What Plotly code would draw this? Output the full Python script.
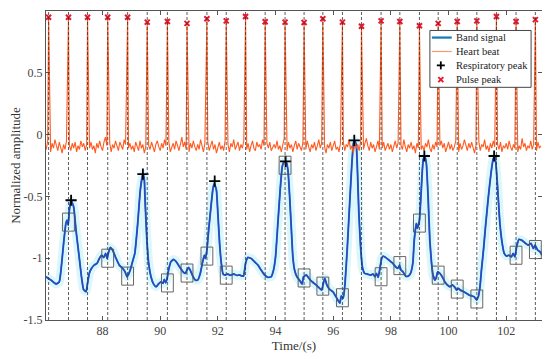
import plotly.graph_objects as go

# ---------------- data ----------------
pulse_t = [86.13, 86.82, 87.48, 88.18, 88.87, 89.55, 90.25, 90.93, 91.62, 92.29,
           92.96, 93.64, 94.33, 94.99, 95.64, 96.32, 96.98, 97.66, 98.31, 98.99,
           99.64, 100.30, 100.98, 101.66, 102.34, 103.01]
pulse_v = [0.95, 0.95, 0.95, 0.95, 0.95, 0.91, 0.915, 0.90, 0.937, 0.92,
           0.956, 0.913, 0.91, 0.907, 0.937, 0.91, 0.877, 0.92, 0.915, 0.88,
           0.90, 0.915, 0.92, 0.956, 0.915, 0.93]

resp_t = [86.91, 89.40, 91.89, 94.35, 96.73, 99.16, 101.58]
resp_v = [-0.531, -0.32, -0.377, -0.216, -0.046, -0.173, -0.173]

box_t = [86.82, 88.18, 88.87, 90.25, 90.93, 91.62, 92.29, 94.33, 94.99, 95.64,
         96.32, 97.66, 98.31, 98.99, 99.64, 100.30, 100.98, 102.34, 103.01]
box_v = [-0.708, -1.0, -1.145, -1.20, -1.12, -0.983, -1.137, -0.248, -1.16, -1.226,
         -1.32, -1.15, -1.06, -0.716, -1.137, -1.25, -1.33, -0.976, -0.93]

band_t = [86.04, 86.21, 86.39, 86.50, 86.56, 86.65, 86.73, 86.77, 86.81, 86.85,
          86.91, 87.00, 87.08, 87.19, 87.27, 87.34, 87.43, 87.48, 87.54, 87.62,
          87.71, 87.81, 87.89, 87.97, 88.04, 88.11, 88.16, 88.20, 88.27, 88.35,
          88.47, 88.58, 88.70, 88.78, 88.85, 88.89, 88.96, 89.04, 89.12, 89.22,
          89.31, 89.40, 89.45, 89.48, 89.54, 89.60, 89.68, 89.77, 89.86, 89.94,
          90.03, 90.10, 90.14, 90.19, 90.24, 90.29, 90.37, 90.46, 90.56, 90.67,
          90.79, 90.87, 90.93, 90.98, 91.04, 91.14, 91.22, 91.30, 91.39, 91.46,
          91.53, 91.57, 91.62, 91.68, 91.76, 91.83, 91.88, 91.95, 92.00, 92.06,
          92.12, 92.18, 92.26, 92.34, 92.43, 92.55, 92.66, 92.75, 92.81, 92.89,
          92.96, 93.04, 93.16, 93.27, 93.39, 93.50, 93.62, 93.74, 93.85, 93.93,
          94.00, 94.08, 94.16, 94.23, 94.29, 94.37, 94.43, 94.49, 94.55, 94.60,
          94.66, 94.74, 94.83, 94.92, 94.97, 95.07, 95.16, 95.27, 95.41, 95.53,
          95.60, 95.67, 95.71, 95.78, 95.87, 96.00, 96.14, 96.23, 96.28, 96.35,
          96.41, 96.49, 96.57, 96.64, 96.70, 96.74, 96.80, 96.84, 96.89, 96.95,
          97.01, 97.09, 97.18, 97.30, 97.38, 97.45, 97.50, 97.56, 97.61, 97.68,
          97.73, 97.82, 97.93, 98.05, 98.16, 98.24, 98.30, 98.35, 98.42, 98.51,
          98.60, 98.68, 98.76, 98.81, 98.88, 98.92, 98.99, 99.04, 99.09, 99.13,
          99.18, 99.23, 99.29, 99.35, 99.41, 99.46, 99.53, 99.58, 99.62, 99.70,
          99.78, 99.87, 99.96, 100.05, 100.13, 100.22, 100.28, 100.34, 100.41, 100.52,
          100.62, 100.71, 100.80, 100.89, 100.97, 101.03, 101.09, 101.14, 101.21, 101.28,
          101.38, 101.47, 101.55, 101.61, 101.66, 101.72, 101.78, 101.86, 101.93, 102.01,
          102.09, 102.18, 102.24, 102.30, 102.36, 102.44, 102.53, 102.65, 102.76, 102.86,
          102.94, 103.00, 103.09, 103.17, 103.25]
band_v = [-1.150, -1.177, -1.209, -1.191, -1.096, -0.880, -0.719, -0.692, -0.733, -0.611,
          -0.531, -0.585, -0.773, -0.989, -1.150, -1.252, -1.271, -1.204, -1.123, -1.082,
          -1.056, -1.042, -1.002, -0.975, -0.994, -0.961, -1.002, -0.961, -0.913, -0.935,
          -1.002, -1.056, -1.082, -1.110, -1.150, -1.136, -1.096, -1.029, -0.961, -0.719,
          -0.450, -0.313, -0.369, -0.557, -0.854, -1.042, -1.150, -1.209, -1.231, -1.209,
          -1.191, -1.204, -1.171, -1.199, -1.163, -1.096, -1.029, -1.010, -1.029, -1.069,
          -1.110, -1.123, -1.096, -1.074, -1.096, -1.150, -1.177, -1.177, -1.123, -1.042,
          -0.975, -1.002, -0.935, -0.773, -0.585, -0.436, -0.396, -0.450, -0.638, -0.880,
          -1.042, -1.128, -1.136, -1.128, -1.139, -1.128, -1.139, -1.136, -1.142, -1.145,
          -1.042, -0.994, -1.002, -1.029, -1.056, -1.096, -1.136, -1.155, -1.150, -1.096,
          -0.989, -0.719, -0.450, -0.262, -0.221, -0.221, -0.288, -0.504, -0.773, -0.989,
          -1.096, -1.150, -1.177, -1.209, -1.150, -1.136, -1.163, -1.191, -1.217, -1.244,
          -1.258, -1.191, -1.163, -1.217, -1.250, -1.274, -1.331, -1.363, -1.306, -1.323,
          -1.204, -0.908, -0.557, -0.262, -0.073, -0.046, -0.086, -0.288, -0.638, -0.908,
          -1.069, -1.123, -1.128, -1.136, -1.128, -1.150, -1.123, -1.155, -1.096, -1.002,
          -0.983, -0.994, -1.015, -1.037, -1.069, -1.082, -1.056, -1.096, -1.110, -1.145,
          -1.145, -1.123, -1.042, -0.854, -0.719, -0.759, -0.692, -0.504, -0.288, -0.194,
          -0.181, -0.234, -0.504, -0.854, -1.040, -1.136, -1.177, -1.150, -1.110, -1.123,
          -1.150, -1.191, -1.217, -1.231, -1.217, -1.236, -1.258, -1.244, -1.258, -1.271,
          -1.284, -1.298, -1.304, -1.312, -1.338, -1.312, -1.231, -1.096, -0.935, -0.746,
          -0.504, -0.315, -0.194, -0.181, -0.288, -0.504, -0.719, -0.880, -0.961, -0.983,
          -0.975, -0.989, -0.961, -0.989, -0.908, -0.848, -0.854, -0.876, -0.894, -0.880,
          -0.921, -0.894, -0.935, -0.948, -0.975]

# heart-beat baseline, one reading every 0.05 s starting at 86.00 s
heart_start = 86.0
heart_step = 0.05
heart_base = [
    -0.08, -0.12, -0.05, -0.10, -0.14, -0.07, -0.11, -0.04, -0.09, -0.13, -0.06, -0.10, -0.15, -0.08, -0.12, -0.05, -0.03, -0.09, -0.13, -0.07,
    -0.11, -0.06, -0.14, -0.09, -0.12, -0.05, -0.10, -0.07, -0.13, -0.08, -0.03, -0.11, -0.06, -0.12, -0.09, -0.15, -0.07, -0.11, -0.05, -0.10,
    -0.13, -0.06, -0.02, -0.09, -0.12, -0.07, -0.14, -0.08, -0.11, -0.05, -0.10, -0.13, -0.06, -0.09, -0.12, -0.04, -0.08, -0.03, -0.11, -0.07,
    -0.12, -0.09, -0.14, -0.06, -0.10, -0.13, -0.05, -0.11, -0.08, -0.15, -0.10, -0.04, -0.09, -0.12, -0.06, -0.11, -0.14, -0.08, -0.05, -0.10,
    -0.13, -0.07, -0.11, -0.04, -0.09, -0.12, -0.06, -0.14, -0.10, -0.07, -0.12, -0.05, -0.09, -0.13, -0.08, -0.02, -0.10, -0.06, -0.12, -0.09,
    -0.14, -0.07, -0.11, -0.05, -0.10, -0.13, -0.08, -0.12, -0.04, -0.09, -0.14, -0.07, -0.11, -0.06, -0.13, -0.09, -0.05, -0.12, -0.08, -0.15,
    -0.10, -0.06, -0.12, -0.09, -0.13, -0.05, -0.11, -0.08, -0.14, -0.07, -0.10, -0.04, -0.12, -0.09, -0.06, -0.13, -0.08, -0.11, -0.05, -0.10,
    -0.12, -0.07, -0.14, -0.09, -0.05, -0.11, -0.13, -0.06, -0.10, -0.08, -0.12, -0.04, -0.09, -0.14, -0.07, -0.11, -0.06, -0.13, -0.10, -0.08,
    -0.11, -0.05, -0.12, -0.09, -0.14, -0.07, -0.03, -0.10, -0.13, -0.06, -0.11, -0.08, -0.14, -0.09, -0.05, -0.12, -0.07, -0.10, -0.13, -0.06,
    -0.09, -0.12, -0.05, -0.10, -0.14, -0.08, -0.11, -0.06, -0.13, -0.09, -0.04, -0.11, -0.07, -0.12, -0.10, -0.15, -0.08, -0.11, -0.06, -0.13,
    -0.09, -0.05, -0.12, -0.10, -0.14, -0.07, -0.11, -0.06, -0.13, -0.08, -0.10, -0.04, -0.12, -0.09, -0.15, -0.07, -0.11, -0.08, -0.13, -0.06,
    -0.10, -0.12, -0.07, -0.03, -0.09, -0.13, -0.06, -0.11, -0.08, -0.14, -0.10, -0.05, -0.12, -0.08, -0.11, -0.06, -0.13, -0.09, -0.07, -0.12,
    -0.08, -0.14, -0.10, -0.05, -0.11, -0.07, -0.13, -0.09, -0.12, -0.04, -0.10, -0.14, -0.08, -0.11, -0.06, -0.12, -0.09, -0.15, -0.07, -0.11,
    -0.05, -0.12, -0.09, -0.13, -0.07, -0.10, -0.04, -0.11, -0.14, -0.08, -0.12, -0.06, -0.10, -0.13, -0.09, -0.05, -0.11, -0.07, -0.14, -0.10,
    -0.06, -0.12, -0.08, -0.13, -0.10, -0.05, -0.11, -0.14, -0.07, -0.12, -0.09, -0.04, -0.10, -0.13, -0.07, -0.11, -0.06, -0.12, -0.15, -0.09,
    -0.11, -0.06, -0.13, -0.08, -0.10, -0.04, -0.12, -0.09, -0.14, -0.07, -0.11, -0.05, -0.10, -0.13, -0.08, -0.12, -0.06, -0.14, -0.09, -0.11,
    -0.07, -0.12, -0.05, -0.10, -0.13, -0.08, -0.11, -0.06, -0.14, -0.09, -0.12, -0.03, -0.10, -0.07, -0.13, -0.09, -0.11, -0.05, -0.12, -0.08,
    -0.10, -0.13, -0.06, -0.11, -0.09,
]

x_ticks = [88, 90, 92, 94, 96, 98, 100, 102]
y_ticks = [-1.5, -1, -0.5, 0, 0.5, 1]
y_tick_text = ["-1.5", "-1", "-0.5", "0", "0.5", "1"]

legend_names = ["Band signal", "Heart beat", "Respiratory peak", "Pulse peak"]

x_range = [86.04, 103.24]
y_range = [-1.5, 1.0]

# ---------------- build the heart beat series ----------------
pts = []
for i, v in enumerate(heart_base):
    t = heart_start + i * heart_step
    if min(abs(t - p) for p in pulse_t) > 0.03:
        pts.append((t, v))
pts += list(zip(pulse_t, pulse_v))
pts.sort()
heart_t = [p[0] for p in pts]
heart_v = [p[1] for p in pts]

FONT = "Liberation Serif"
BAND_LEG = "#1379b0"
BAND_LINE = "#2f44c2"
HEART = "#ff5a1f"
HEART_LEG = "#f79a72"
PULSE = "#e8182e"

fig = go.Figure()

# light halo of the band signal
fig.add_trace(go.Scatter(x=band_t, y=band_v, mode="lines",
                         line=dict(color="rgba(205,244,251,0.7)", width=9, shape="spline", smoothing=0.4),
                         showlegend=False, hoverinfo="skip"))
# band signal
fig.add_trace(go.Scatter(x=band_t, y=band_v, mode="lines", name="Band signal",
                         line=dict(color="#1272c0", width=1.9, shape="spline", smoothing=0.4)))
fig.add_trace(go.Scatter(x=band_t, y=band_v, mode="lines", showlegend=False,
                         line=dict(color=BAND_LINE, width=1.3, shape="spline", smoothing=0.4),
                         hoverinfo="skip"))
# heart beat
fig.add_trace(go.Scatter(x=heart_t, y=heart_v, mode="lines", name="Heart beat",
                         line=dict(color=HEART, width=1.1)))
# respiratory peaks
fig.add_trace(go.Scatter(x=resp_t, y=resp_v, mode="markers", name="Respiratory peak",
                         marker=dict(symbol="cross-thin", size=8, line=dict(color="black", width=1.8))))
# pulse peaks
fig.add_trace(go.Scatter(x=pulse_t, y=pulse_v, mode="markers", name="Pulse peak",
                         marker=dict(symbol="x-thin", size=5, line=dict(color=PULSE, width=2))))

shapes = []
for t in pulse_t:
    shapes.append(dict(type="line", xref="x", yref="paper", x0=t, x1=t, y0=0, y1=1,
                       line=dict(color="#333333", width=0.8, dash="3px,2px"), layer="above"))
BW, BH = 0.205, 0.073
for t, v in zip(box_t, box_v):
    shapes.append(dict(type="rect", xref="x", yref="y", x0=t - BW, x1=t + BW, y0=v - BH, y1=v + BH,
                       line=dict(color="#555555", width=0.9), fillcolor="rgba(0,0,0,0)", layer="above"))

# ---------------- compact legend (paper coordinates) ----------------
LX0, LX1, LY0, LY1 = 0.774, 0.978, 0.753, 0.937
ROWS = [0.914, 0.869, 0.824, 0.778]
KEY0, KEY1, KEYC, TXT = 0.778, 0.818, 0.796, 0.822
shapes.append(dict(type="rect", xref="paper", yref="paper", x0=LX0, x1=LX1, y0=LY0, y1=LY1,
                   line=dict(color="#444444", width=1), fillcolor="white", layer="above"))
shapes.append(dict(type="line", xref="paper", yref="paper", x0=KEY0, x1=KEY1, y0=ROWS[0], y1=ROWS[0],
                   line=dict(color=BAND_LEG, width=2.2), layer="above"))
shapes.append(dict(type="line", xref="paper", yref="paper", x0=KEY0, x1=KEY1, y0=ROWS[1], y1=ROWS[1],
                   line=dict(color=HEART_LEG, width=1.2), layer="above"))
for (a, b, c, d), col, w, r in [((-4, 0, 4, 0), "black", 1.8, ROWS[2]), ((0, -4, 0, 4), "black", 1.8, ROWS[2]),
                                ((-2.5, -2.5, 2.5, 2.5), PULSE, 2, ROWS[3]), ((-2.5, 2.5, 2.5, -2.5), PULSE, 2, ROWS[3])]:
    shapes.append(dict(type="line", xref="paper", yref="paper", xsizemode="pixel", ysizemode="pixel",
                       xanchor=KEYC, yanchor=r, x0=a, y0=b, x1=c, y1=d,
                       line=dict(color=col, width=w), layer="above"))
annotations = [dict(xref="paper", yref="paper", x=TXT, y=r, text=name, showarrow=False,
                    xanchor="left", yanchor="middle", font=dict(family=FONT, size=10.5, color="#222222"))
               for name, r in zip(legend_names, ROWS)]

axis_common = dict(showline=True, linecolor="#555555", linewidth=1, mirror="ticks",
                   ticks="inside", ticklen=4, tickcolor="#555555", showgrid=False, zeroline=False,
                   tickfont=dict(family=FONT, size=12, color="#444444"))

# the page body adds an 8 px offset, so the figure is 542x351 and starts at (8, 8)
fig.update_layout(
    width=542, height=351,
    margin=dict(l=38, r=8, t=2.5, b=39, autoexpand=False),
    paper_bgcolor="white", plot_bgcolor="white",
    font=dict(family=FONT, color="#333333"),
    shapes=shapes, annotations=annotations,
    xaxis=dict(range=x_range, tickvals=x_ticks, ticktext=[str(v) for v in x_ticks],
               title=dict(text="Time/(s)", font=dict(family=FONT, size=13, color="#333333"), standoff=0),
               automargin=False, **axis_common),
    yaxis=dict(range=y_range, tickvals=y_ticks, ticktext=y_tick_text,
               title=dict(text="Normalized amplitude", font=dict(family=FONT, size=13, color="#333333"), standoff=8),
               automargin=False, **axis_common),
    showlegend=False,
)

fig.write_html("out.html")
